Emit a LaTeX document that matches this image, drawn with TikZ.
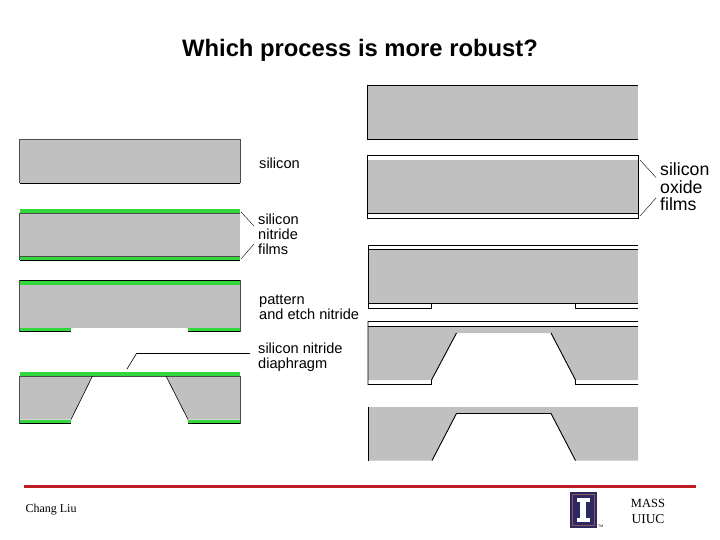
\documentclass[tikz,border=0pt]{standalone}
\usepackage{fontspec}
\setmainfont{Liberation Sans}
\newfontfamily\footfont{Liberation Serif}
\definecolor{waferfill}{RGB}{192,192,192}
\definecolor{nitridegreen}{RGB}{50,215,60}
\definecolor{footred}{RGB}{190,30,35}
\definecolor{logoblue}{RGB}{45,40,95}
\definecolor{logobrown}{RGB}{140,90,90}
\tikzset{
    wafer/.style={fill=waferfill, draw=none},
    nitride/.style={fill=nitridegreen, draw=none},
    edgeline/.style={draw=black, line width=0.9pt},
    thinedge/.style={draw=black!70, line width=0.5pt},
    leader/.style={draw=black, line width=0.4pt},
    sidelabel/.style={font=\fontsize{14.6}{15}\selectfont, align=left, anchor=west, inner sep=0pt},
    oxidelabel/.style={font=\fontsize{17.7}{17.5}\selectfont, align=left, anchor=west, inner sep=0pt},
    footlabel/.style={font=\footfont\fontsize{12}{16}\selectfont, inner sep=0pt}
}
\begin{document}
\begin{tikzpicture}[x=1pt, y=-1pt]
    \useasboundingbox (0,0) rectangle (720,540);

    \node[font=\bfseries\fontsize{23.8}{25}\selectfont, inner sep=0pt] (title) at (360,50) {Which process is more robust?};

    % Left column, plain silicon
    \fill[wafer] (19.5,139) rectangle (240,183);
    \draw[edgeline] (240,183) -- (19.5,183);
    \draw[thinedge] (19.5,183) -- (19.5,139) -- (240,139) -- (240,183);
    \node[sidelabel] (silicon) at (259,163) {silicon};

    % Nitride on both faces
    \fill[wafer] (19.5,209) rectangle (240,260);
    \fill[nitride] (19.5,209) rectangle (240,213);
    \fill[nitride] (19.5,256) rectangle (240,260);
    \draw[thinedge] (19.5,260) -- (19.5,213) -- (240,213);
    \draw[thinedge] (19.5,256) -- (240,256);
    \draw[edgeline] (19.5,260.3) -- (240,260.3);
    \node[sidelabel] (nitfilms) at (258,234) {silicon\\nitride\\films};
    \coordinate (nita) at (241,212);
    \coordinate (nitb) at (254,226);
    \coordinate (nitc) at (241,259);
    \coordinate (nitd) at (254,244);
    \draw[leader] (nita) -- (nitb);
    \draw[leader] (nitc) -- (nitd);

    % Patterned nitride
    \fill[wafer] (19.5,280) rectangle (240,328);
    \fill[nitride] (19.5,280) rectangle (240,284.5);
    \fill[nitride] (19.5,328) rectangle (71,331.5);
    \fill[nitride] (188,328) rectangle (240,331.5);
    \draw[thinedge] (19.5,331.5) -- (19.5,280);
    \draw[thinedge] (240,280) -- (240,331.5);
    \draw[edgeline] (19.5,280) -- (240,280);
    \draw[edgeline] (19.5,331.8) -- (71,331.8);
    \draw[edgeline] (188,331.8) -- (240,331.8);
    \node[sidelabel] (pattern) at (259,307.5) {pattern\\and etch nitride};

    % Etched from the back
    \fill[wafer] (19.5,376) -- (92.5,376) -- (71,419.5) -- (19.5,419.5) -- cycle;
    \fill[wafer] (166,376) -- (240,376) -- (240,419.5) -- (188,419.5) -- cycle;
    \fill[nitride] (19.5,372) rectangle (240,376);
    \fill[nitride] (19.5,419.5) rectangle (71,423.5);
    \fill[nitride] (188,419.5) rectangle (240,423.5);
    \draw[thinedge] (19.5,423.5) -- (19.5,376) -- (240,376) -- (240,423.5);
    \draw[edgeline] (19.5,423.7) -- (71,423.7);
    \draw[edgeline] (188,423.7) -- (240,423.7);
    \draw[leader, line width=0.6pt] (92.5,376) -- (71,419.5);
    \draw[leader, line width=0.6pt] (166,376) -- (188,419.5);
    \node[sidelabel] (diaphragm) at (258,357.5) {silicon nitride\\diaphragm};
    \coordinate (diaa) at (250,353.5);
    \coordinate (diab) at (136.5,353.5);
    \coordinate (diac) at (127,369);
    \draw[leader, line width=0.6pt] (diaa) -- (diab) -- (diac);

    % Right column, plain silicon
    \fill[wafer] (367.5,85.5) rectangle (638,139.5);
    \draw[edgeline] (638,85.5) -- (367.5,85.5) -- (367.5,139.5) -- (638,139.5);

    % Oxide on both faces
    \fill[wafer] (367.5,160) rectangle (638,213.5);
    \draw[edgeline] (367.5,155.5) rectangle (638,218.5);
    \draw[edgeline] (367.5,213.5) -- (638,213.5);
    \node[oxidelabel] (oxfilms) at (660,187) {silicon\\oxide\\films};
    \coordinate (oxa) at (640,160);
    \coordinate (oxb) at (656,177.5);
    \coordinate (oxc) at (640,216);
    \coordinate (oxd) at (656,198);
    \draw[leader] (oxa) -- (oxb);
    \draw[leader] (oxc) -- (oxd);

    % Patterned oxide
    \fill[wafer] (368,249.5) rectangle (638,303.5);
    \draw[edgeline] (638,245.5) -- (368,245.5) -- (368,308.5) -- (431.5,308.5) -- (431.5,303.5);
    \draw[edgeline] (368,249.5) -- (638,249.5);
    \draw[edgeline] (368,303.5) -- (638,303.5);
    \draw[edgeline] (638,308.5) -- (575.5,308.5) -- (575.5,303.5);

    % Etched through the pattern
    \fill[wafer] (368,326.5) -- (638,326.5) -- (638,380) -- (575.5,380) -- (551,333) -- (456.5,333) -- (431.5,380) -- (368,380) -- cycle;
    \draw[edgeline] (638,321.5) -- (368,321.5) -- (368,384.5) -- (431.5,384.5) -- (431.5,380) -- (456.5,333);
    \draw[edgeline] (368,326.5) -- (638,326.5);
    \draw[edgeline] (551,333) -- (575.5,380) -- (575.5,384.5) -- (638,384.5);

    % Oxide stripped
    \fill[wafer] (368,407) -- (638,407) -- (638,460.5) -- (575.5,460.5) -- (551,413.5) -- (456.5,413.5) -- (432,460.5) -- (368,460.5) -- cycle;
    \draw[edgeline] (368,407) -- (368,460.5);
    \draw[edgeline] (432,460.5) -- (456.5,413.5) -- (551,413.5) -- (575.5,460.5);

    % Footer
    \coordinate (rulea) at (24,486);
    \coordinate (ruleb) at (696,486);
    \draw[footred, line width=3pt] (rulea) -- (ruleb);
    \node[footlabel] (author) at (51,510) {Chang Liu};
    \node[footlabel, font=\footfont\fontsize{12.5}{16}\selectfont] (mass) at (648,503) {MASS};
    \node[footlabel, font=\footfont\fontsize{13.5}{16}\selectfont] (uiuc) at (648,519) {UIUC};

    % Logo
    \fill[logoblue] (570,492) rectangle (597,528);
    \draw[logobrown, line width=0.8pt] (572.5,494.5) rectangle (594.5,525.5);
    \fill[white] (577,498) rectangle (590,502);
    \fill[white] (579.5,502) rectangle (586,518);
    \fill[white] (577,518) rectangle (590,522);
    \node[font=\fontsize{3.5}{4}\selectfont, inner sep=0pt, anchor=west] (logomark) at (598,526) {TM};
\end{tikzpicture}
\end{document}
